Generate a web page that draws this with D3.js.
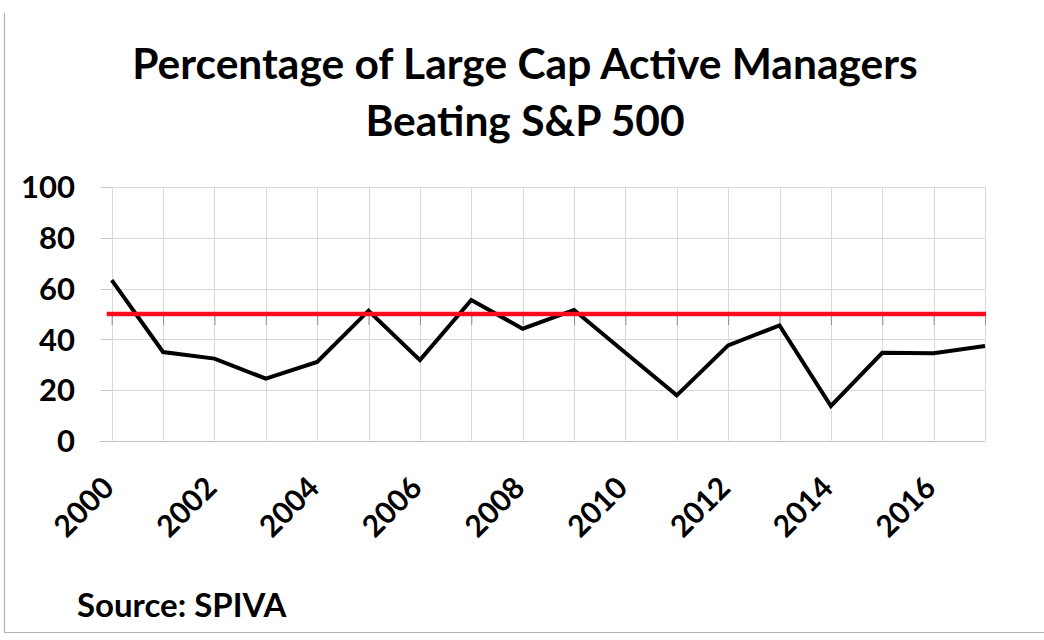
<!DOCTYPE html>
<html>
<head>
<meta charset="utf-8">
<script src="https://cdn.jsdelivr.net/npm/d3@7"></script>
<style>
  html, body { margin: 0; padding: 0; background: #fff; }
  svg { display: block; }
  text { font-family: Lato, "Open Sans", sans-serif; font-weight: bold; fill: #000; }
</style>
</head>
<body>
<svg id="chart" width="1044" height="640"></svg>
<script>
const years = [2000,2001,2002,2003,2004,2005,2006,2007,2008,2009,2010,2011,2012,2013,2014,2015,2016,2017];
const beating = [63.4,35.0,32.4,24.5,31.1,51.3,31.8,55.5,44.2,51.6,34.7,17.9,37.6,45.5,13.7,34.7,34.5,37.4];
const benchmark = 50;
const yTicks = [0,20,40,60,80,100];
const xTickLabels = [2000,2002,2004,2006,2008,2010,2012,2014,2016];
const titleLines = ["Percentage of Large Cap Active Managers", "Beating S&P 500"];
const sourceText = "Source: SPIVA";

const svg = d3.select("#chart");
const W = 1044, H = 640;
const plot = {left: 111.7, right: 985, top: 187.3, bottom: 440.7};

// frame
svg.append("line").attr("x1", 4.5).attr("x2", 4.5).attr("y1", 13).attr("y2", 632.5)
  .attr("stroke", "#b3b3b3").attr("stroke-width", 1.2);
svg.append("line").attr("x1", 4).attr("x2", W).attr("y1", 632.5).attr("y2", 632.5)
  .attr("stroke", "#b3b3b3").attr("stroke-width", 1.2);

const x = d3.scaleLinear().domain([years[0], years[years.length-1]]).range([plot.left, plot.right]);
const y = d3.scaleLinear().domain([0, 100]).range([plot.bottom, plot.top]);

// title
svg.append("g").selectAll("text").data(titleLines).join("text")
  .attr("x", 525).attr("y", (d,i) => 79 + i*57)
  .attr("text-anchor", "middle")
  .style("font-size", "42.5px")
  .text(d => d);

// horizontal gridlines
svg.append("g").selectAll("line").data(yTicks).join("line")
  .attr("x1", plot.left - 11).attr("x2", plot.right)
  .attr("y1", d => Math.round(y(d)) + 0.5).attr("y2", d => Math.round(y(d)) + 0.5)
  .attr("stroke", "#d9d9d9").attr("stroke-width", 1);
// vertical gridlines
svg.append("g").selectAll("line").data(years).join("line")
  .attr("x1", d => Math.round(x(d)) + 0.5).attr("x2", d => Math.round(x(d)) + 0.5)
  .attr("y1", plot.top).attr("y2", plot.bottom)
  .attr("stroke", "#d9d9d9").attr("stroke-width", 1);
// left tick marks
svg.append("g").selectAll("line").data(yTicks).join("line")
  .attr("x1", plot.left - 11).attr("x2", plot.left)
  .attr("y1", d => Math.round(y(d)) + 0.5).attr("y2", d => Math.round(y(d)) + 0.5)
  .attr("stroke", "#c8c8c8").attr("stroke-width", 1);
// bottom axis line
svg.append("line").attr("x1", plot.left - 11).attr("x2", plot.right)
  .attr("y1", Math.round(y(0)) + 0.5).attr("y2", Math.round(y(0)) + 0.5)
  .attr("stroke", "#bfbfbf").attr("stroke-width", 1.2);

// small ticks hanging below the benchmark line
const midAxis = d3.axisBottom(x).tickValues(years).tickSize(11).tickFormat("");
const gMid = svg.append("g").attr("transform", `translate(0,${y(benchmark)})`).call(midAxis);
gMid.select(".domain").remove();
gMid.selectAll(".tick line").attr("stroke", "#8c8c8c").attr("stroke-width", 1);

// y labels
svg.append("g").selectAll("text").data(yTicks).join("text")
  .attr("x", 75).attr("y", d => y(d)).attr("dy", "0.36em")
  .attr("text-anchor", "end")
  .style("font-size", "31px")
  .text(d => d);

// x labels
svg.append("g").selectAll("text").data(xTickLabels).join("text")
  .attr("transform", d => `translate(${x(d) + 4},${plot.bottom + 49}) rotate(-45)`)
  .attr("text-anchor", "end")
  .style("font-size", "30px")
  .text(d => d);

// data line
const line = d3.line().x((d,i) => x(years[i])).y(d => y(d));
svg.append("path").datum(beating)
  .attr("d", line)
  .attr("fill", "none").attr("stroke", "#000").attr("stroke-width", 4)
  .attr("stroke-linejoin", "miter");

// benchmark line
svg.append("line")
  .attr("x1", x(years[0]) - 5).attr("x2", x(years[years.length-1]) + 1)
  .attr("y1", y(benchmark)).attr("y2", y(benchmark))
  .attr("stroke", "#ff0a1e").attr("stroke-width", 4.5);

// source
svg.append("text").attr("x", 77).attr("y", 617)
  .style("font-size", "33px")
  .text(sourceText);
</script>
</body>
</html>
